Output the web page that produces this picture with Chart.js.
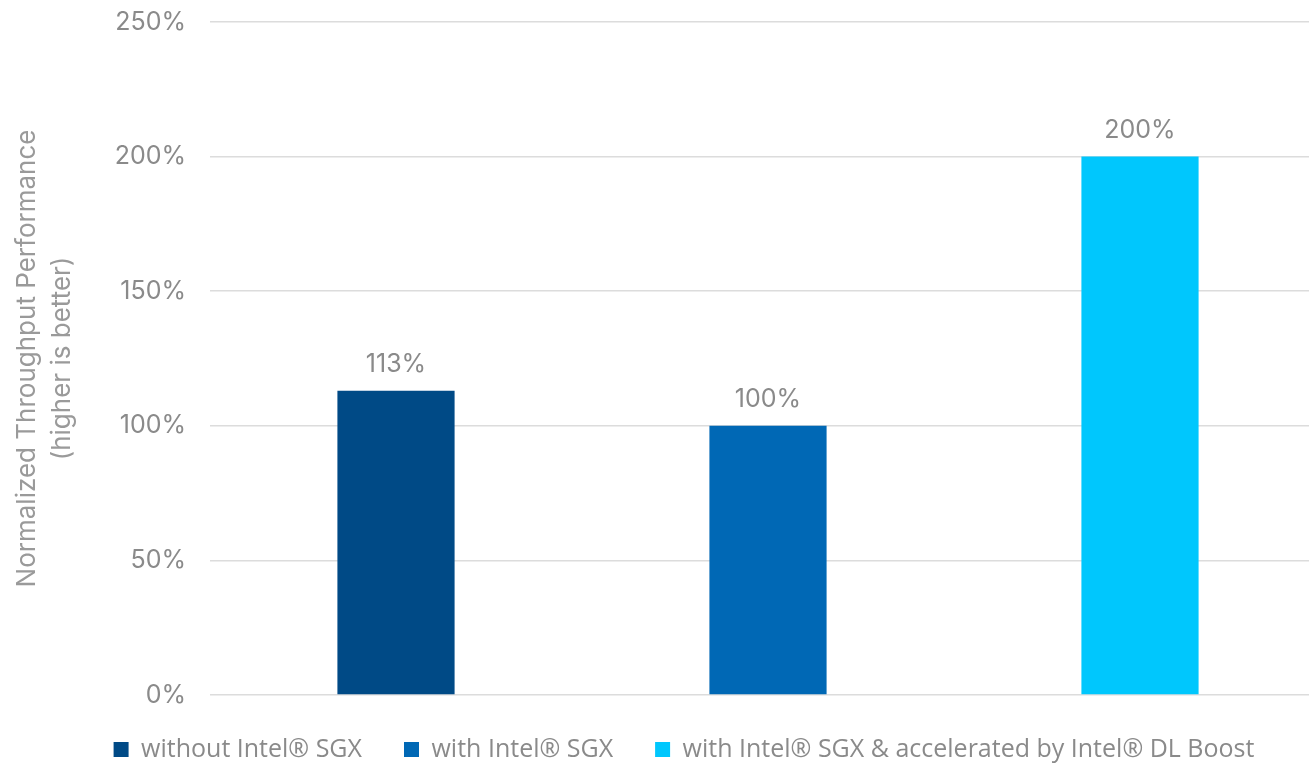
<!DOCTYPE html>
<html>
<head>
<meta charset="utf-8">
<script src="https://cdn.jsdelivr.net/npm/chart.js@4/dist/chart.umd.min.js"></script>
<style>
    html, body { margin: 0; padding: 0; background: #fff; overflow: hidden; }
    #wrap { width: 1368px; height: 763px; }
</style>
</head>
<body>
<div id="wrap"><canvas id="perfChart" width="1368" height="763"></canvas></div>
<script>
// ──────────────────────────────────────────────
// Данные
// ──────────────────────────────────────────────
const categories = ['without Intel® SGX', 'with Intel® SGX', 'with Intel® SGX & accelerated by Intel® DL Boost'];
const values     = [113, 100, 200];
const colors     = ['#004A86', '#0068B5', '#00C7FD'];
const yTicks     = [0, 50, 100, 150, 200, 250];
const yTitle     = ['Normalized Throughput Performance', '(higher is better)'];

const GRAY = '#8a8a8a';

// ──────────────────────────────────────────────
// Подписи над столбцами
// ──────────────────────────────────────────────
const valueLabels = {
    id: 'valueLabels',
    afterDatasetsDraw(chart) {
        const ctx = chart.ctx;
        ctx.save();
        ctx.font = '25px Inter';
        ctx.fillStyle = GRAY;
        ctx.textAlign = 'center';
        ctx.textBaseline = 'middle';
        chart.data.datasets.forEach((ds, i) => {
            const meta = chart.getDatasetMeta(i);
            meta.data.forEach((bar, j) => {
                if (ds.data[j] == null) return;
                ctx.fillText(ds.data[j] + '%', bar.x, bar.y - 26);
            });
        });
        ctx.restore();
    }
};

const datasets = categories.map((c, i) => ({
    label: c,
    data: categories.map((_, j) => j === i ? values[i] : null),
    backgroundColor: colors[i],
    borderWidth: 0
}));

new Chart(document.getElementById('perfChart'), {
    type: 'bar',
    data: { labels: categories, datasets },
    options: {
        responsive: false,
        animation: false,
        devicePixelRatio: 1,
        layout: { padding: { top: 22, left: 0, right: 0, bottom: -9 } },
        datasets: { bar: { grouped: false, categoryPercentage: 1, barPercentage: 0.315 } },
        plugins: {
            legend: {
                position: 'bottom',
                labels: {
                    boxWidth: 15, boxHeight: 15, padding: 42,
                    color: GRAY,
                    font: { family: 'Open Sans', size: 25 }
                }
            },
            tooltip: { enabled: false }
        },
        scales: {
            x: { display: false },
            y: {
                min: 0, max: 250,
                afterBuildTicks: s => { s.ticks = yTicks.map(v => ({ value: v })); },
                // фиксированная ширина оси, без лишних отступов сверху/снизу
                afterFit: s => { s.width = 210; s.paddingTop = 0; s.paddingBottom = 0; },
                ticks: {
                    padding: 24,
                    color: GRAY,
                    font: { family: 'Inter', size: 25 },
                    callback: v => v + '%'
                },
                grid: { color: '#dcdcdc', lineWidth: 1.5, drawTicks: false },
                border: { display: false },
                title: {
                    display: true,
                    text: yTitle,
                    color: '#9a9a9a',
                    padding: { top: 10, bottom: 0 },
                    font: { family: 'Inter', size: 26, lineHeight: 1.35 }
                }
            },
            y2: {
                type: 'linear',
                position: 'right',
                display: true,
                ticks: { display: false },
                grid: { display: false },
                border: { display: false },
                afterFit: s => { s.width = 42; }
            }
        }
    },
    plugins: [valueLabels]
});
</script>
</body>
</html>
